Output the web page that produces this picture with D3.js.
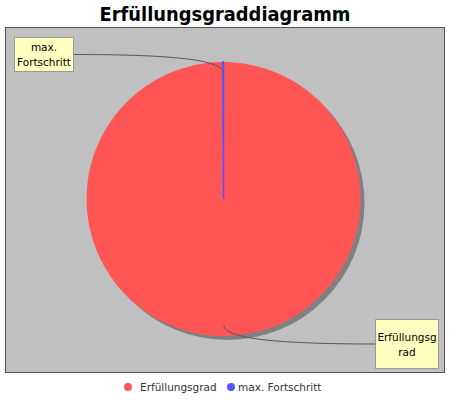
<!DOCTYPE html>
<html>
<head>
<meta charset="utf-8">
<script src="https://cdn.jsdelivr.net/npm/d3@7"></script>
<style>
  body { margin: 0; background: #fff; }
  text { font-family: "DejaVu Sans", sans-serif; }
</style>
</head>
<body>
<svg id="chart" width="450" height="400"></svg>
<script>
// slice names and values
var categories = ["Erfüllungsgrad", "max. Fortschritt"];
var values = [99.9, 0.1];
var colors = ["#ff5555", "#5555ff"];
var labelLines = [["Erfüllungsg", "rad"], ["max.", "Fortschritt"]];

var svg = d3.select("#chart"),
    width = +svg.attr("width"),
    height = +svg.attr("height");

var plot = {left: 5.5, top: 27.5, right: 444.5, bottom: 372.5};

// title
svg.append("text")
    .attr("x", width / 2)
    .attr("y", 21)
    .attr("text-anchor", "middle")
    .style("font-size", "19px")
    .style("font-weight", "bold")
    .attr("textLength", 251)
    .attr("lengthAdjust", "spacingAndGlyphs")
    .text("Erfüllungsgraddiagramm");

// plot background
svg.append("rect")
    .attr("x", plot.left).attr("y", plot.top)
    .attr("width", plot.right - plot.left).attr("height", plot.bottom - plot.top)
    .attr("fill", "#c0c0c0")
    .attr("stroke", "#555").attr("stroke-width", 1);

var cx = 223.5, cy = 199, r = 137;

var data = categories.map((c, i) => ({name: c, value: values[i], color: colors[i], lines: labelLines[i]}));

var pie = d3.pie().sort(null).value(d => d.value);
var arcs = pie(data);
var arc = d3.arc().innerRadius(0).outerRadius(r);

var g = svg.append("g").attr("transform", `translate(${cx},${cy})`);

// shadow
g.append("circle")
    .attr("cx", 4).attr("cy", 4).attr("r", r)
    .attr("fill", "#808080");

g.selectAll("path.slice")
    .data(arcs)
    .enter().append("path")
    .attr("class", "slice")
    .attr("d", arc)
    .attr("fill", d => d.data.color)
    .attr("stroke", d => d.data.value < 5 ? d.data.color : "none")
    .attr("stroke-width", 1.5);

// labels
var linkArc = d3.arc().innerRadius(r * 0.92).outerRadius(r * 0.92);
var boxes = [
    {x: 375.5, y: 319.5, w: 63, h: 49},   // Erfüllungsgrad
    {x: 14.5, y: 37.5, w: 59, h: 34}      // max. Fortschritt
];

arcs.forEach(function(d, i) {
    var b = boxes[i];
    var mid = (d.startAngle + d.endAngle) / 2;
    var px = cx + Math.sin(mid) * r * 0.92,
        py = cy - Math.cos(mid) * r * 0.92;
    var left = px > b.x + b.w;
    var ex = left ? b.x + b.w : b.x,
        ey = b.y + b.h / 2;
    var p = d3.path();
    p.moveTo(px, py);
    if (left) {
        p.bezierCurveTo(px, py - 12, px - 40, ey, ex, ey);
    } else {
        p.bezierCurveTo(px, py + 12, px + 40, ey, ex, ey);
    }
    svg.append("path")
        .attr("d", p.toString())
        .attr("fill", "none")
        .attr("stroke", "#555")
        .attr("stroke-width", 1);

    svg.append("rect")
        .attr("x", b.x).attr("y", b.y).attr("width", b.w).attr("height", b.h)
        .attr("fill", "#ffffc0")
        .attr("stroke", "#999").attr("stroke-width", 1);

    var n = d.data.lines.length;
    d.data.lines.forEach(function(t, k) {
        svg.append("text")
            .attr("x", b.x + b.w / 2)
            .attr("y", b.y + b.h / 2 + (k - (n - 1) / 2) * 15 + 4)
            .attr("text-anchor", "middle")
            .style("font-size", "10.5px")
            .text(t);
    });
});

// legend
var legendX = [128, 231];
var legend = svg.selectAll("g.legend")
    .data(data)
    .enter().append("g")
    .attr("class", "legend")
    .attr("transform", (d, i) => `translate(${legendX[i]},387)`);

legend.append("circle")
    .attr("r", 4)
    .attr("fill", d => d.color);

legend.append("text")
    .attr("x", d => d.value < 5 ? 7 : 12)
    .attr("y", 4)
    .style("font-size", "10.5px")
    .style("fill", "#333")
    .text(d => d.name);
</script>
</body>
</html>
